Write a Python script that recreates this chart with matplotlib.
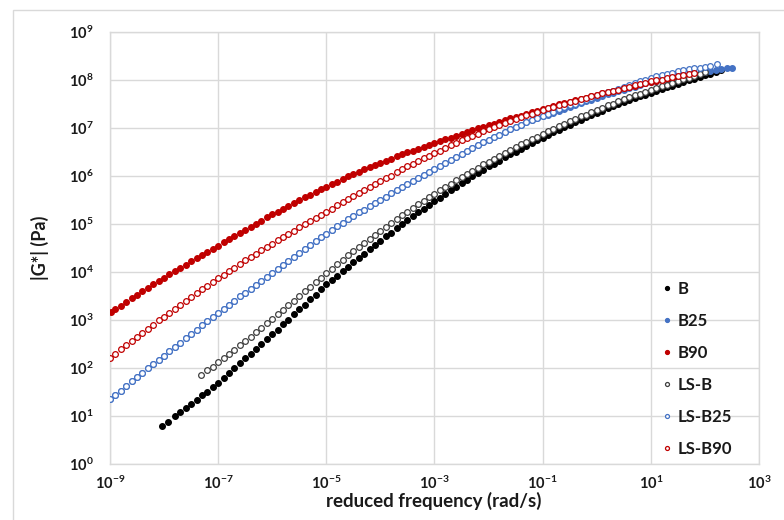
import numpy as np
import matplotlib
matplotlib.use("Agg")
import matplotlib.pyplot as plt
from matplotlib.patches import Rectangle
from matplotlib.ticker import FixedLocator, FuncFormatter, NullLocator

plt.rcParams['font.family'] = ['Lato', 'DejaVu Sans']
plt.rcParams['mathtext.fontset'] = 'custom'
plt.rcParams['mathtext.rm'] = 'Lato:bold'
plt.rcParams['mathtext.bf'] = 'Lato:bold'
plt.rcParams['mathtext.it'] = 'Lato:bold'
plt.rcParams['mathtext.default'] = 'rm'

# ---- master-curve data: log10(reduced frequency) and log10(|G*|) ----
B_logw = [-8.04, -7.93, -7.8,
          -7.7, -7.6, -7.5, -7.4, -7.3, -7.2, -7.1, -7.0,
          -6.9, -6.8, -6.7, -6.6, -6.5, -6.4, -6.3, -6.2, -6.1, -6.0,
          -5.9, -5.8, -5.7, -5.6, -5.5, -5.4, -5.3, -5.2, -5.1, -5.0,
          -4.9, -4.8, -4.7, -4.6, -4.5, -4.4, -4.3, -4.2, -4.1, -4.0,
          -3.9, -3.8, -3.7, -3.6, -3.5, -3.4, -3.3, -3.2, -3.1, -3.0,
          -2.9, -2.8, -2.7, -2.6, -2.5, -2.4, -2.3, -2.2, -2.1, -2.0,
          -1.9, -1.8, -1.7, -1.6, -1.5, -1.4, -1.3, -1.2, -1.1, -1.0,
          -0.9, -0.8, -0.7, -0.6, -0.5, -0.4, -0.3, -0.2, -0.1, 0.0,
          0.1, 0.2, 0.3, 0.4, 0.5, 0.6, 0.7, 0.8, 0.9, 1.0,
          1.1, 1.2, 1.3, 1.4, 1.5, 1.6, 1.7, 1.8, 1.9, 2.0,
          2.1, 2.2, 2.3]
B_logG = [0.79, 0.88, 1.0,
          1.08, 1.17, 1.25, 1.34, 1.43, 1.51, 1.6, 1.69,
          1.79, 1.89, 2.0, 2.1, 2.2, 2.3, 2.4, 2.5, 2.6, 2.7,
          2.8, 2.91, 3.01, 3.12, 3.22, 3.32, 3.43, 3.53, 3.64, 3.74,
          3.83, 3.92, 4.02, 4.11, 4.2, 4.29, 4.38, 4.47, 4.56, 4.65,
          4.74, 4.82, 4.91, 4.99, 5.08, 5.16, 5.24, 5.32, 5.4, 5.48,
          5.55, 5.63, 5.7, 5.78, 5.85, 5.92, 5.99, 6.06, 6.13, 6.2,
          6.26, 6.32, 6.39, 6.45, 6.51, 6.57, 6.63, 6.68, 6.74, 6.8,
          6.85, 6.91, 6.96, 7.02, 7.07, 7.12, 7.17, 7.22, 7.27, 7.32,
          7.36, 7.41, 7.45, 7.5, 7.54, 7.58, 7.62, 7.66, 7.69, 7.73,
          7.77, 7.81, 7.85, 7.88, 7.92, 7.96, 7.99, 8.03, 8.06, 8.1,
          8.13, 8.17, 8.2]

B25_logw = [-9.0, -8.9, -8.8, -8.7, -8.6, -8.5, -8.4, -8.3, -8.2, -8.1, -8.0,
            -7.9, -7.8, -7.7, -7.6, -7.5, -7.4, -7.3, -7.2, -7.1, -7.0,
            -6.9, -6.8, -6.7, -6.6, -6.5, -6.4, -6.3, -6.2, -6.1, -6.0,
            -5.9, -5.8, -5.7, -5.6, -5.5, -5.4, -5.3, -5.2, -5.1, -5.0,
            -4.9, -4.8, -4.7, -4.6, -4.5, -4.4, -4.3, -4.2, -4.1, -4.0,
            -3.9, -3.8, -3.7, -3.6, -3.5, -3.4, -3.3, -3.2, -3.1, -3.0,
            -2.9, -2.8, -2.7, -2.6, -2.5, -2.4, -2.3, -2.2, -2.1, -2.0,
            -1.9, -1.8, -1.7, -1.6, -1.5, -1.4, -1.3, -1.2, -1.1, -1.0,
            -0.9, -0.8, -0.7, -0.6, -0.5, -0.4, -0.3, -0.2, -0.1, 0.0,
            0.1, 0.2, 0.3, 0.4, 0.5, 0.6, 0.7, 0.8, 0.9, 1.0,
            1.1, 1.2, 1.3, 1.4, 1.5, 1.6, 1.7, 1.8, 1.9, 2.0,
            2.1, 2.2, 2.3, 2.4, 2.5]
B25_logG = [1.35, 1.44, 1.53, 1.63, 1.72, 1.81, 1.9, 1.99, 2.08, 2.17, 2.26,
            2.35, 2.44, 2.53, 2.62, 2.71, 2.8, 2.89, 2.97, 3.06, 3.15,
            3.23, 3.32, 3.4, 3.49, 3.57, 3.65, 3.73, 3.82, 3.9, 3.98,
            4.06, 4.15, 4.23, 4.32, 4.4, 4.48, 4.56, 4.64, 4.72, 4.8,
            4.87, 4.95, 5.02, 5.1, 5.17, 5.24, 5.3, 5.37, 5.43, 5.5,
            5.57, 5.64, 5.7, 5.77, 5.84, 5.9, 5.96, 6.02, 6.08, 6.14,
            6.2, 6.27, 6.33, 6.4, 6.46, 6.52, 6.58, 6.64, 6.7, 6.76,
            6.81, 6.86, 6.92, 6.97, 7.02, 7.07, 7.12, 7.16, 7.21, 7.26,
            7.28, 7.32, 7.36, 7.4, 7.44, 7.48, 7.52, 7.56, 7.59, 7.63,
            7.66, 7.7, 7.73, 7.77, 7.8, 7.83, 7.86, 7.9, 7.93, 7.96,
            7.98, 8.01, 8.03, 8.06, 8.08, 8.1, 8.12, 8.13, 8.15, 8.17,
            8.19, 8.21, 8.22, 8.24, 8.26]

B90_logw = [-8.98, -8.9, -8.8, -8.7, -8.6, -8.5, -8.4, -8.3, -8.2, -8.1, -8.0,
            -7.9, -7.8, -7.7, -7.6, -7.5, -7.4, -7.3, -7.2, -7.1, -7.0,
            -6.9, -6.8, -6.7, -6.6, -6.5, -6.4, -6.3, -6.2, -6.1, -6.0,
            -5.9, -5.8, -5.7, -5.6, -5.5, -5.4, -5.3, -5.2, -5.1, -5.0,
            -4.9, -4.8, -4.7, -4.6, -4.5, -4.4, -4.3, -4.2, -4.1, -4.0,
            -3.9, -3.8, -3.7, -3.6, -3.5, -3.4, -3.3, -3.2, -3.1, -3.0,
            -2.9, -2.8, -2.7, -2.6, -2.5, -2.4, -2.3, -2.2, -2.1, -2.0,
            -1.9, -1.8, -1.7, -1.6, -1.5, -1.4, -1.3, -1.2, -1.1, -1.0,
            -0.9, -0.8, -0.7, -0.6, -0.5, -0.4, -0.3, -0.2, -0.1, 0.0,
            0.1, 0.2, 0.3, 0.4, 0.5, 0.6, 0.7, 0.8, 0.9, 1.0,
            1.1, 1.2, 1.3, 1.4, 1.5]
B90_logG = [3.17, 3.23, 3.3, 3.38, 3.45, 3.53, 3.6, 3.67, 3.74, 3.81, 3.88,
            3.95, 4.02, 4.08, 4.15, 4.22, 4.29, 4.35, 4.42, 4.48, 4.55,
            4.62, 4.68, 4.75, 4.81, 4.88, 4.94, 5.01, 5.07, 5.14, 5.2,
            5.26, 5.32, 5.38, 5.44, 5.5, 5.56, 5.61, 5.67, 5.72, 5.78,
            5.83, 5.88, 5.94, 5.99, 6.04, 6.09, 6.14, 6.18, 6.23, 6.28,
            6.32, 6.36, 6.41, 6.45, 6.49, 6.53, 6.57, 6.61, 6.65, 6.69,
            6.73, 6.77, 6.8, 6.84, 6.88, 6.92, 6.95, 6.99, 7.02, 7.06,
            7.09, 7.13, 7.16, 7.2, 7.23, 7.26, 7.29, 7.33, 7.36, 7.39,
            7.42, 7.45, 7.49, 7.52, 7.55, 7.58, 7.61, 7.63, 7.66, 7.69,
            7.72, 7.75, 7.77, 7.8, 7.83, 7.86, 7.88, 7.91, 7.93, 7.96,
            7.98, 8.0, 8.03, 8.05, 8.07]

LSB_logw = [-7.31, -7.2, -7.1, -7.0,
            -6.9, -6.8, -6.7, -6.6, -6.5, -6.4, -6.3, -6.2, -6.1, -6.0,
            -5.9, -5.8, -5.7, -5.6, -5.5, -5.4, -5.3, -5.2, -5.1, -5.0,
            -4.9, -4.8, -4.7, -4.6, -4.5, -4.4, -4.3, -4.2, -4.1, -4.0,
            -3.9, -3.8, -3.7, -3.6, -3.5, -3.4, -3.3, -3.2, -3.1, -3.0,
            -2.9, -2.8, -2.7, -2.6, -2.5, -2.4, -2.3, -2.2, -2.1, -2.0,
            -1.9, -1.8, -1.7, -1.6, -1.5, -1.4, -1.3, -1.2, -1.1, -1.0,
            -0.9, -0.8, -0.7, -0.6, -0.5, -0.4, -0.3, -0.2, -0.1, 0.0,
            0.1, 0.2, 0.3, 0.4, 0.5, 0.6, 0.7, 0.8, 0.9, 1.0,
            1.1, 1.2, 1.3, 1.4, 1.5, 1.6, 1.7, 1.8, 1.9, 2.0]
LSB_logG = [1.85, 1.95, 2.03, 2.12,
            2.21, 2.3, 2.38, 2.47, 2.56, 2.65, 2.74, 2.84, 2.93, 3.02,
            3.12, 3.21, 3.31, 3.4, 3.5, 3.6, 3.69, 3.79, 3.88, 3.98,
            4.07, 4.16, 4.26, 4.35, 4.44, 4.52, 4.61, 4.69, 4.78, 4.86,
            4.94, 5.02, 5.1, 5.18, 5.26, 5.33, 5.41, 5.48, 5.56, 5.63,
            5.7, 5.77, 5.84, 5.91, 5.98, 6.04, 6.11, 6.17, 6.24, 6.3,
            6.36, 6.42, 6.48, 6.54, 6.6, 6.66, 6.71, 6.77, 6.82, 6.88,
            6.93, 6.98, 7.04, 7.09, 7.14, 7.19, 7.24, 7.28, 7.33, 7.38,
            7.42, 7.47, 7.51, 7.56, 7.6, 7.64, 7.68, 7.71, 7.75, 7.79,
            7.83, 7.87, 7.9, 7.94, 7.98, 8.02, 8.05, 8.09, 8.13, 8.16]

LSB25_logw = [-9.0, -8.9, -8.8, -8.7, -8.6, -8.5, -8.4, -8.3, -8.2, -8.1, -8.0,
              -7.9, -7.8, -7.7, -7.6, -7.5, -7.4, -7.3, -7.2, -7.1, -7.0,
              -6.9, -6.8, -6.7, -6.6, -6.5, -6.4, -6.3, -6.2, -6.1, -6.0,
              -5.9, -5.8, -5.7, -5.6, -5.5, -5.4, -5.3, -5.2, -5.1, -5.0,
              -4.9, -4.8, -4.7, -4.6, -4.5, -4.4, -4.3, -4.2, -4.1, -4.0,
              -3.9, -3.8, -3.7, -3.6, -3.5, -3.4, -3.3, -3.2, -3.1, -3.0,
              -2.9, -2.8, -2.7, -2.6, -2.5, -2.4, -2.3, -2.2, -2.1, -2.0,
              -1.9, -1.8, -1.7, -1.6, -1.5, -1.4, -1.3, -1.2, -1.1, -1.0,
              -0.9, -0.8, -0.7, -0.6, -0.5, -0.4, -0.3, -0.2, -0.1, 0.0,
              0.1, 0.2, 0.3, 0.4, 0.5, 0.6, 0.7, 0.8, 0.9, 1.0,
              1.1, 1.2, 1.3, 1.4, 1.5, 1.6, 1.7, 1.8, 1.9, 2.0,
              2.1, 2.22]
LSB25_logG = [1.35, 1.44, 1.53, 1.63, 1.72, 1.81, 1.9, 1.99, 2.08, 2.17, 2.26,
              2.35, 2.44, 2.53, 2.62, 2.71, 2.8, 2.89, 2.97, 3.06, 3.15,
              3.23, 3.32, 3.4, 3.49, 3.57, 3.65, 3.73, 3.82, 3.9, 3.98,
              4.06, 4.15, 4.23, 4.32, 4.4, 4.48, 4.56, 4.64, 4.72, 4.8,
              4.87, 4.95, 5.02, 5.1, 5.17, 5.24, 5.3, 5.37, 5.43, 5.5,
              5.57, 5.64, 5.7, 5.77, 5.84, 5.9, 5.96, 6.02, 6.08, 6.14,
              6.2, 6.27, 6.33, 6.4, 6.46, 6.52, 6.58, 6.64, 6.7, 6.76,
              6.81, 6.86, 6.92, 6.97, 7.02, 7.07, 7.12, 7.16, 7.21, 7.26,
              7.3, 7.34, 7.39, 7.43, 7.47, 7.51, 7.55, 7.59, 7.63, 7.67,
              7.71, 7.75, 7.78, 7.82, 7.86, 7.9, 7.94, 7.97, 8.01, 8.05,
              8.08, 8.1, 8.13, 8.15, 8.18, 8.2, 8.22, 8.24, 8.26, 8.28,
              8.3, 8.33]

LSB90_logw = [-9.0, -8.9, -8.8, -8.7, -8.6, -8.5, -8.4, -8.3, -8.2, -8.1, -8.0,
              -7.9, -7.8, -7.7, -7.6, -7.5, -7.4, -7.3, -7.2, -7.1, -7.0,
              -6.9, -6.8, -6.7, -6.6, -6.5, -6.4, -6.3, -6.2, -6.1, -6.0,
              -5.9, -5.8, -5.7, -5.6, -5.5, -5.4, -5.3, -5.2, -5.1, -5.0,
              -4.9, -4.8, -4.7, -4.6, -4.5, -4.4, -4.3, -4.2, -4.1, -4.0,
              -3.9, -3.8, -3.7, -3.6, -3.5, -3.4, -3.3, -3.2, -3.1, -3.0,
              -2.9, -2.8, -2.7, -2.6, -2.5, -2.4, -2.3, -2.2, -2.1, -2.0,
              -1.9, -1.8, -1.7, -1.6, -1.5, -1.4, -1.3, -1.2, -1.1, -1.0,
              -0.9, -0.8, -0.7, -0.6, -0.5, -0.4, -0.3, -0.2, -0.1, 0.0,
              0.1, 0.2, 0.3, 0.4, 0.5, 0.6, 0.7, 0.8, 0.9, 1.0,
              1.1, 1.2, 1.3, 1.4, 1.5, 1.6, 1.7, 1.79]
LSB90_logG = [2.21, 2.3, 2.39, 2.47, 2.56, 2.65, 2.73, 2.82, 2.9, 2.99, 3.07,
              3.15, 3.23, 3.32, 3.4, 3.48, 3.56, 3.64, 3.71, 3.79, 3.87,
              3.94, 4.02, 4.09, 4.17, 4.24, 4.31, 4.38, 4.45, 4.52, 4.59,
              4.66, 4.73, 4.79, 4.86, 4.93, 5.0, 5.06, 5.13, 5.19, 5.26,
              5.32, 5.39, 5.45, 5.52, 5.58, 5.64, 5.7, 5.77, 5.83, 5.89,
              5.95, 6.01, 6.08, 6.14, 6.2, 6.26, 6.31, 6.37, 6.42, 6.48,
              6.53, 6.58, 6.64, 6.69, 6.74, 6.79, 6.84, 6.88, 6.93, 6.98,
              7.02, 7.06, 7.11, 7.15, 7.19, 7.23, 7.27, 7.3, 7.34, 7.38,
              7.41, 7.44, 7.48, 7.51, 7.54, 7.57, 7.6, 7.63, 7.66, 7.69,
              7.72, 7.75, 7.77, 7.8, 7.83, 7.86, 7.89, 7.91, 7.94, 7.97,
              7.99, 8.01, 8.04, 8.06, 8.08, 8.1, 8.12, 8.14]

labels = ["B", "B25", "B90", "LS-B", "LS-B25", "LS-B90"]
series_w = [B_logw, B25_logw, B90_logw, LSB_logw, LSB25_logw, LSB90_logw]
series_G = [B_logG, B25_logG, B90_logG, LSB_logG, LSB25_logG, LSB90_logG]
x_tick_exp = [-9, -7, -5, -3, -1, 1, 3]
y_tick_exp = [0, 1, 2, 3, 4, 5, 6, 7, 8, 9]

# marker styles: (edge colour, face colour)
styles = [("#000000", "#000000"), ("#4472C4", "#4472C4"), ("#C00000", "#C00000"),
          ("#3f3f3f", "white"), ("#4472C4", "white"), ("#C00000", "white")]

fig = plt.figure(figsize=(7.84, 5.2), dpi=100)
ax = fig.add_axes([110 / 784, 56 / 520, 649 / 784, 432 / 520])
ax.set_xscale("log")
ax.set_yscale("log")

for i, (lab, w, g, (ec, fc)) in enumerate(zip(labels, series_w, series_G, styles)):
    ax.plot(10.0 ** np.array(w), 10.0 ** np.array(g), linestyle="none",
            marker="o", ms=4.1, mec=ec, mfc=fc, mew=0.9, label=lab, zorder=3 + i)

ax.set_xlim(10.0 ** x_tick_exp[0], 10.0 ** x_tick_exp[-1])
ax.set_ylim(10.0 ** y_tick_exp[0], 10.0 ** y_tick_exp[-1])

pow_fmt = FuncFormatter(lambda v, pos: r"$10^{%d}$" % int(round(np.log10(v))))
ax.xaxis.set_major_locator(FixedLocator([10.0 ** e for e in x_tick_exp]))
ax.yaxis.set_major_locator(FixedLocator([10.0 ** e for e in y_tick_exp]))
ax.xaxis.set_minor_locator(NullLocator())
ax.yaxis.set_minor_locator(NullLocator())
ax.xaxis.set_major_formatter(pow_fmt)
ax.yaxis.set_major_formatter(pow_fmt)
ax.tick_params(axis="both", length=0, labelsize=10.5, colors="#1a1a1a")
ax.tick_params(axis="y", pad=12)
ax.tick_params(axis="x", pad=8)

ax.grid(True, color="#d9d9d9", lw=1.0)
ax.set_axisbelow(True)
for sp in ax.spines.values():
    sp.set_color("#d9d9d9")
    sp.set_linewidth(1.0)

fig.text(434 / 784, 1 - 501 / 520, "reduced frequency (rad/s)", ha="center",
         va="center", fontsize=13.5, fontweight="bold", color="#1a1a1a")
fig.text(40 / 784, 1 - 248 / 520, "|G*| (Pa)", ha="center", va="center",
         rotation=90, fontsize=13, fontweight="bold", color="#1a1a1a")

leg = ax.legend(loc="upper left", bbox_to_anchor=(663 / 784, 1 - 281 / 520),
                bbox_transform=fig.transFigure, frameon=False, borderpad=0,
                borderaxespad=0, handlelength=0.5, handletextpad=0.4,
                labelspacing=0.96, markerscale=0.7,
                prop={"weight": "bold", "size": 12})
for t in leg.get_texts():
    t.set_color("#1a1a1a")

# light frame around the chart area
fig.add_artist(Rectangle((13 / 784, -0.05), 1.2, 1 - 10 / 520 + 0.05,
                         transform=fig.transFigure, fill=False,
                         edgecolor="#d9d9d9", lw=1.0))

fig.savefig("out.png", dpi=100)
